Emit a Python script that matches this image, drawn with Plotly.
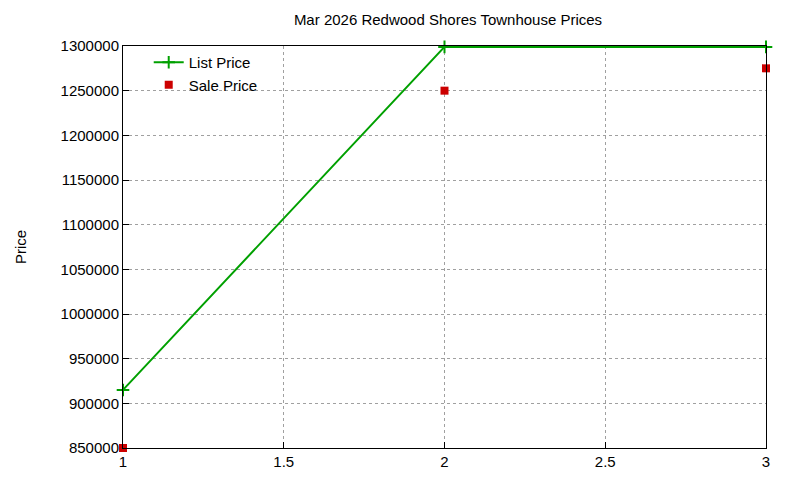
import plotly.graph_objects as go

# data
listing = [1, 2, 3]
list_price = [915000, 1299000, 1299000]
sale_price = [850000, 1250000, 1275000]

fig = go.Figure()
fig.add_trace(go.Scatter(
    x=listing, y=list_price, name="List Price", mode="lines+markers",
    line=dict(color="#00a000", width=2),
    marker=dict(symbol="cross-thin", size=9, line=dict(color="#00a000", width=2)),
    cliponaxis=False,
))
fig.add_trace(go.Scatter(
    x=listing, y=sale_price, name="Sale Price", mode="markers",
    marker=dict(symbol="square", size=8, color="#cc0000"),
    cliponaxis=False,
))

axis_common = dict(
    showgrid=True, gridcolor="#a0a0a0", griddash="dot", gridwidth=1,
    showline=True, linecolor="black", linewidth=1, mirror=True,
    ticks="inside", tickcolor="black", ticklen=6, zeroline=False,
    tickfont=dict(size=15, color="black"),
)

fig.update_layout(
    width=800, height=480,
    paper_bgcolor="white", plot_bgcolor="white",
    font=dict(family="Liberation Sans, Arial, sans-serif", color="black"),
    title=dict(text="Mar 2026 Redwood Shores Townhouse Prices", x=0.55, xanchor="center",
               y=0.975, yanchor="middle", font=dict(size=15)),
    # page body adds an 8px margin, so shift everything up/left by 8px
    margin=dict(l=111, r=42, t=38, b=40),
    xaxis=dict(range=[1, 3], tickvals=[1, 1.5, 2, 2.5, 3], **axis_common),
    yaxis=dict(range=[850000, 1300000], dtick=50000, tickformat="d",
               title=dict(text="Price", font=dict(size=15), standoff=30), **axis_common),
    legend=dict(x=0.04, y=1.0, xanchor="left", yanchor="top", bgcolor="rgba(0,0,0,0)",
                font=dict(size=15), tracegroupgap=0),
    showlegend=True,
)

fig.write_html("out.html")
